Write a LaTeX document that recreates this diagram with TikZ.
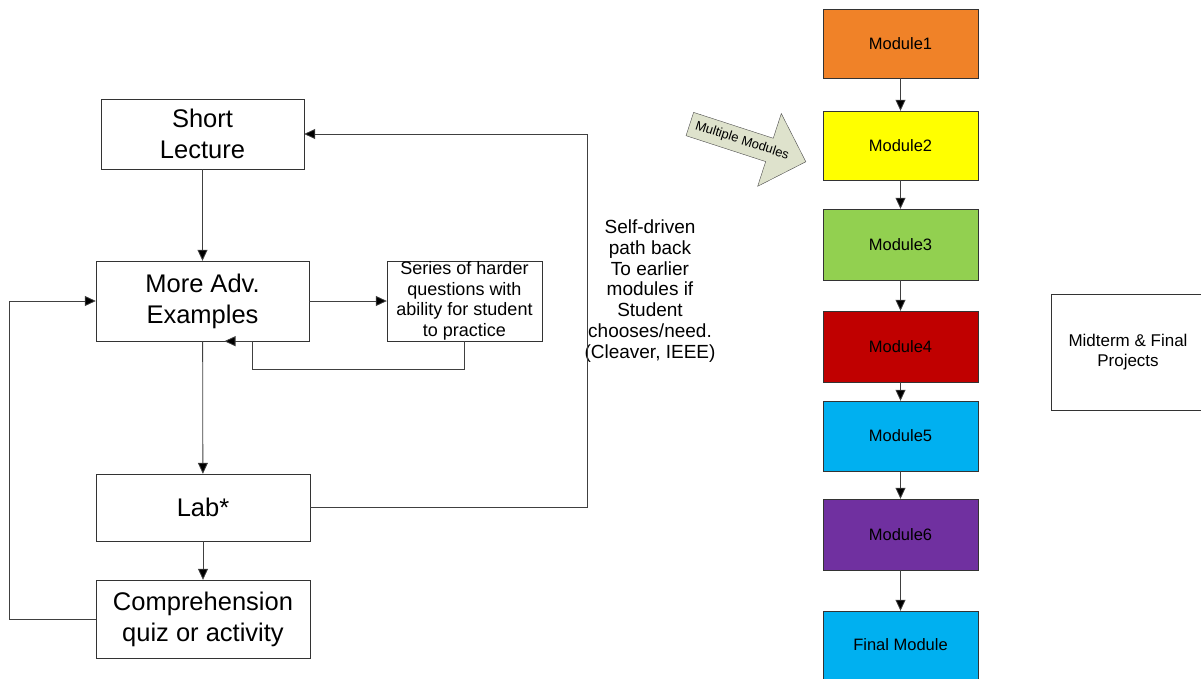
\documentclass[tikz,border=0pt]{standalone}
\usepackage{fontspec}
\setmainfont{Liberation Sans}
\usepackage{tikz}
\usetikzlibrary{arrows.meta,shapes.arrows}
\definecolor{modorange}{RGB}{240,130,40}
\definecolor{modyellow}{RGB}{255,255,0}
\definecolor{modgreen}{RGB}{146,208,80}
\definecolor{modred}{RGB}{192,0,0}
\definecolor{modcyan}{RGB}{0,176,240}
\definecolor{modpurple}{RGB}{112,48,160}
\definecolor{sage}{RGB}{222,226,204}
\tikzstyle{stage} = [draw=black!80, rectangle, align=center, font={\fontsize{25.5}{31}\selectfont}]
\tikzstyle{small} = [draw=black!80, rectangle, align=center, font={\fontsize{18}{20.5}\selectfont}]
\tikzstyle{module} = [draw=black!80, rectangle, minimum width=155pt, font={\fontsize{16.5}{20}\selectfont}]
\tikzstyle{flow} = [draw=black!75, line width=0.8pt, -{Triangle[length=11pt,width=10pt,fill=black]}]
\tikzstyle{bigarrow} = [single arrow, draw=black!70, fill=sage, rotate=-18, single arrow head extend=26pt,
  single arrow tip angle=90, minimum height=122pt, inner ysep=6pt, inner xsep=3pt, font={\fontsize{13}{14}\selectfont}]

\begin{document}
\begin{tikzpicture}[x=1pt,y=-1pt]
  \useasboundingbox (0,0) rectangle (1201,679);
  % left side
  \node[stage,minimum width=203pt,minimum height=70pt](lecture) at (202.5,134){Short\\Lecture};
  \node[stage,minimum width=213pt,minimum height=80pt](examples) at (202.5,301){More Adv.\\Examples};
  \node[stage,minimum width=214pt,minimum height=67pt](lab) at (203,507.5){Lab*};
  \node[stage,minimum width=214pt,minimum height=78pt](quiz) at (203,619){Comprehension\\quiz or activity};
  \node[small,minimum width=155pt,minimum height=80pt,inner sep=1pt](practice) at (464.5,301)
    {Series of harder\\questions with\\ability for student\\to practice};
  \node[align=center,font={\fontsize{19}{20.7}\selectfont}](note) at (650,291)
    {Self-driven\\path back\\To earlier\\modules if\\Student\\chooses/need.\\(Cleaver, IEEE)};
  \draw[flow](lecture)--(examples);
  \draw[flow](examples)--(lab);
  \draw[flow](lab)--(quiz);
  \draw[flow](examples)--(practice);
  \draw[flow](practice.south)--++(0,28)-|([xshift=50pt]examples.south)--([xshift=22pt]examples.south);
  \draw[flow](quiz.west)--++(-86,0)|-(examples.west);
  \draw[flow](lab.east)--++(277,0)|-(lecture.east);
  % right side
  \node[module,fill=modorange,minimum height=69pt](m1) at (900.5,43.5){Module1};
  \node[module,fill=modyellow,minimum height=69pt](m2) at (900.5,145.5){Module2};
  \node[module,fill=modgreen,minimum height=71pt](m3) at (900.5,244.5){Module3};
  \node[module,fill=modred,minimum height=71pt](m4) at (900.5,346.5){Module4};
  \node[module,fill=modcyan,minimum height=70pt](m5) at (900.5,436){Module5};
  \node[module,fill=modpurple,minimum height=71pt](m6) at (900.5,534.5){Module6};
  \node[module,fill=modcyan,minimum height=68pt](final) at (900.5,645){Final Module};
  \node[draw=black!80,align=center,minimum width=154pt,minimum height=116pt,
    font={\fontsize{17}{20}\selectfont}](projects) at (1128,352){Midterm \& Final\\Projects};
  \node[bigarrow](multi) at (742,141){Multiple Modules};
  \draw[flow](m1)--(m2);
  \draw[flow](m2)--(m3);
  \draw[flow](m3)--(m4);
  \draw[flow](m4)--(m5);
  \draw[flow](m5)--(m6);
  \draw[flow](m6)--(final);
\end{tikzpicture}
\end{document}
